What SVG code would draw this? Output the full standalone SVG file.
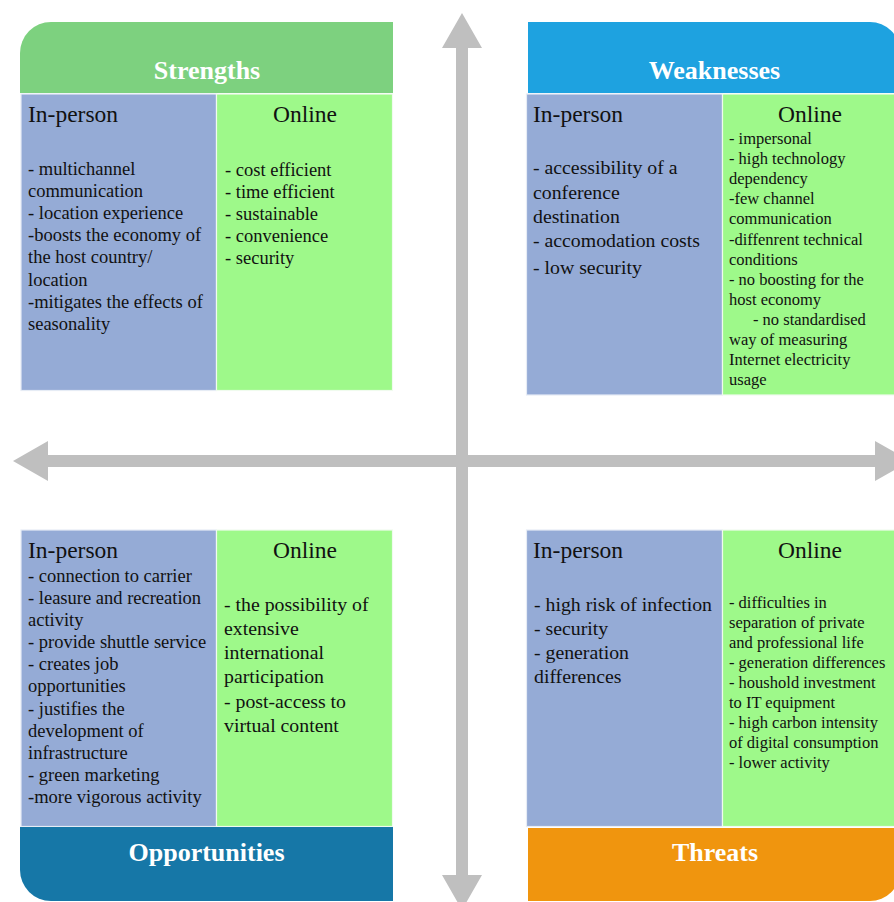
<svg xmlns="http://www.w3.org/2000/svg" width="894" height="902" viewBox="0 0 894 902">
<style>
.bg{fill:#ffffff}
.arrow{fill:#BFBFBF}
.ip{fill:#95ABD6;stroke:#E6ECF5;stroke-width:1.2}
.on{fill:#9EF98A;stroke:#F0FBEE;stroke-width:1.2}
.hd{font-family:"Liberation Serif","Times New Roman",serif;font-weight:bold;font-size:26px;fill:#ffffff;text-anchor:middle}
.sub{font-family:"Liberation Serif","Times New Roman",serif;font-size:23.5px;fill:#111111}
.subc{font-family:"Liberation Serif","Times New Roman",serif;font-size:23.5px;fill:#111111;text-anchor:middle}
.t18{font-family:"Liberation Serif","Times New Roman",serif;font-size:18.5px;fill:#111111}
.t20{font-family:"Liberation Serif","Times New Roman",serif;font-size:19.8px;fill:#111111}
.t16{font-family:"Liberation Serif","Times New Roman",serif;font-size:16.5px;fill:#111111}
</style>
<rect class="bg" x="0" y="0" width="894" height="902"/>
<g id="connectors">
<polygon class="arrow" points="462,13 482,48 468,48 468,875 482,875 462,910 442,875 456,875 456,48 442,48"/>
<polygon class="arrow" points="13,461 48,441 48,455 875,455 875,441 910,461 875,481 875,467 48,467 48,481"/>
</g>
<g id="strengths">
<path d="M20,93 V53 A31,31 0 0 1 51,22 H393 V93 Z" fill="#7DD17F"/>
<text class="hd" x="207" y="79">Strengths</text>
<rect class="ip" x="21" y="94" width="195.5" height="296.5"/>
<rect class="on" x="216.5" y="94" width="176" height="296.5"/>
<text class="sub" x="28" y="122">In-person</text>
<text class="subc" x="305" y="122">Online</text>
<text class="t18" x="28" y="174.5">- multichannel</text>
<text class="t18" x="28" y="196.7">communication</text>
<text class="t18" x="28" y="218.9">- location experience</text>
<text class="t18" x="28" y="241.1">-boosts the economy of</text>
<text class="t18" x="28" y="263.3">the host country/</text>
<text class="t18" x="28" y="285.5">location</text>
<text class="t18" x="28" y="307.7">-mitigates the effects of</text>
<text class="t18" x="28" y="329.9">seasonality</text>
<text class="t18" x="225" y="175.5">- cost efficient</text>
<text class="t18" x="225" y="197.7">- time efficient</text>
<text class="t18" x="225" y="219.9">- sustainable</text>
<text class="t18" x="225" y="242.1">- convenience</text>
<text class="t18" x="225" y="264.3">- security</text>
</g>
<g id="weaknesses">
<path d="M528,22 H870 A30,30 0 0 1 900,52 V93 H528 Z" fill="#1EA2E0"/>
<text class="hd" x="714.5" y="79">Weaknesses</text>
<rect class="ip" x="526.5" y="94" width="196" height="301"/>
<rect class="on" x="722.5" y="94" width="178" height="301"/>
<text class="sub" x="533" y="122">In-person</text>
<text class="subc" x="810" y="122">Online</text>
<text class="t20" x="533" y="174">- accessibility of a</text>
<text class="t20" x="533" y="198.5">conference</text>
<text class="t20" x="533" y="222.5">destination</text>
<text class="t20" x="533" y="246.5">- accomodation costs</text>
<text class="t20" x="533" y="274">- low security</text>
<text class="t16" x="729" y="144">- impersonal</text>
<text class="t16" x="729" y="164.1">- high technology</text>
<text class="t16" x="729" y="184.2">dependency</text>
<text class="t16" x="729" y="204.3">-few channel</text>
<text class="t16" x="729" y="224.4">communication</text>
<text class="t16" x="729" y="244.5">-diffenrent technical</text>
<text class="t16" x="729" y="264.6">conditions</text>
<text class="t16" x="729" y="284.7">- no boosting for the</text>
<text class="t16" x="729" y="304.8">host economy</text>
<text class="t16" x="753" y="324.9">- no standardised</text>
<text class="t16" x="729" y="345">way of measuring</text>
<text class="t16" x="729" y="365.1">Internet electricity</text>
<text class="t16" x="729" y="385.2">usage</text>
</g>
<g id="opportunities">
<rect class="ip" x="21" y="530" width="195.5" height="296.5"/>
<rect class="on" x="216.5" y="530" width="176" height="296.5"/>
<path d="M20,827 H393 V901 H51 A31,31 0 0 1 20,870 Z" fill="#1677A7"/>
<text class="hd" x="206.5" y="861">Opportunities</text>
<text class="sub" x="28" y="557.5">In-person</text>
<text class="subc" x="305" y="557.5">Online</text>
<text class="t18" x="28" y="581.5">- connection to carrier</text>
<text class="t18" x="28" y="603.7">- leasure and recreation</text>
<text class="t18" x="28" y="625.8">activity</text>
<text class="t18" x="28" y="648">- provide shuttle service</text>
<text class="t18" x="28" y="670.1">- creates job</text>
<text class="t18" x="28" y="692.3">opportunities</text>
<text class="t18" x="28" y="714.5">- justifies the</text>
<text class="t18" x="28" y="736.6">development of</text>
<text class="t18" x="28" y="758.8">infrastructure</text>
<text class="t18" x="28" y="780.9">- green marketing</text>
<text class="t18" x="28" y="803.1">-more vigorous activity</text>
<text class="t20" x="224" y="610.7">- the possibility of</text>
<text class="t20" x="224" y="634.9">extensive</text>
<text class="t20" x="224" y="659.1">international</text>
<text class="t20" x="224" y="683.3">participation</text>
<text class="t20" x="224" y="707.5">- post-access to</text>
<text class="t20" x="224" y="731.7">virtual content</text>
</g>
<g id="threats">
<rect class="ip" x="526.5" y="530" width="196" height="296.5"/>
<rect class="on" x="722.5" y="530" width="178" height="296.5"/>
<path d="M528,828 H900 V871 A30,30 0 0 1 870,901 H528 Z" fill="#F0950E"/>
<text class="hd" x="715" y="861">Threats</text>
<text class="sub" x="533" y="557.5">In-person</text>
<text class="subc" x="810" y="557.5">Online</text>
<text class="t20" x="534" y="610.7">- high risk of infection</text>
<text class="t20" x="534" y="634.9">- security</text>
<text class="t20" x="534" y="659.1">- generation</text>
<text class="t20" x="534" y="683.3">differences</text>
<text class="t16" x="729" y="608.3">- difficulties in</text>
<text class="t16" x="729" y="628.3">separation of private</text>
<text class="t16" x="729" y="648.3">and professional life</text>
<text class="t16" x="729" y="668.3">- generation differences</text>
<text class="t16" x="729" y="688.3">- houshold investment</text>
<text class="t16" x="729" y="708.3">to IT equipment</text>
<text class="t16" x="729" y="728.3">- high carbon intensity</text>
<text class="t16" x="729" y="748.3">of digital consumption</text>
<text class="t16" x="729" y="768.3">- lower activity</text>
</g>
</svg>
